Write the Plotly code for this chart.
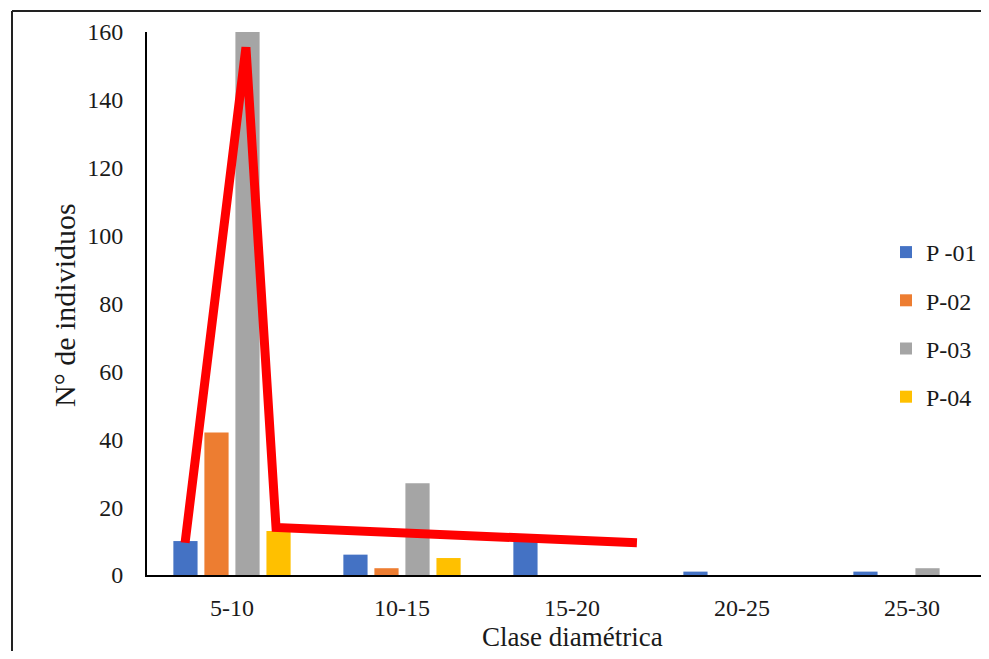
import plotly.graph_objects as go

categories = ["5-10", "10-15", "15-20", "20-25", "25-30"]
series_names = ["P -01", "P-02", "P-03", "P-04"]
p01 = [10, 6, 10, 1, 1]
p02 = [42, 2, 0, 0, 0]
p03 = [160, 27, 0, 0, 2]
p04 = [13, 5, 0, 0, 0]
series_values = [p01, p02, p03, p04]
colors = ["#4472C4", "#ED7D31", "#A5A5A5", "#FFC000"]

# hand-drawn red trend line (category-index x, value y)
trend_x = [-0.276, 0.082, 0.259, 2.382]
trend_y = [9.5, 155.5, 14, 9.5]

y_ticks = [0, 20, 40, 60, 80, 100, 120, 140, 160]

OFF = 8  # browser body margin
PAGE_W, PAGE_H = 989, 659
W, H = PAGE_W - 2 * OFF, PAGE_H - 2 * OFF
# plot area in page pixels
PL, PT, PB = 147, 32, 575
L = PL - OFF
T = PT - OFF
B = H - (PB - OFF)
R = 0
plot_w = W - L - R
plot_h = H - T - B
x_range = [-0.5, -0.5 + plot_w / 170.0]

font_family = "Liberation Serif, Times New Roman, serif"
txt = "#1a1a1a"

fig = go.Figure()
for i, (name, vals) in enumerate(zip(series_names, series_values)):
    fig.add_trace(go.Bar(
        x=categories, y=vals, name=name,
        marker=dict(color=colors[i], line=dict(width=0)),
        legendgroup=name,
    ))

fig.add_trace(go.Scatter(
    x=trend_x, y=trend_y, mode="lines", xaxis="x2",
    line=dict(color="#FF0000", width=9), showlegend=False,
    hoverinfo="skip",
))

def px_x(p):
    return (p - PL) / plot_w

def px_y(p):
    return (PB - p) / plot_h

frame_line = dict(color="#222222", width=2)

fig.update_layout(
    width=W, height=H,
    margin=dict(l=L, r=R, t=T, b=B, autoexpand=False),
    paper_bgcolor="white", plot_bgcolor="white",
    font=dict(family=font_family, size=24, color=txt),
    barmode="group", bargap=0.27, bargroupgap=0.22,
    xaxis=dict(
        type="category", range=x_range,
        showline=True, linecolor="black", linewidth=2,
        showgrid=False, zeroline=False,
        ticks="outside", ticklen=10, tickcolor="rgba(0,0,0,0)",
        tickfont=dict(size=24, color=txt, family=font_family),
    ),
    xaxis2=dict(
        overlaying="x", range=x_range, visible=False,
    ),
    yaxis=dict(
        range=[0, 160], tickvals=y_ticks,
        showline=True, linecolor="black", linewidth=2,
        showgrid=False, zeroline=False,
        ticks="outside", ticklen=17, tickcolor="rgba(0,0,0,0)",
        tickfont=dict(size=24, color=txt, family=font_family),
    ),
    legend=dict(
        x=px_x(886), y=px_y(230), xanchor="left", yanchor="top",
        font=dict(size=24, color=txt, family=font_family),
        tracegroupgap=14, bgcolor="rgba(0,0,0,0)",
    ),
    annotations=[
        dict(text="Clase diamétrica", xref="paper", yref="paper",
             x=px_x(572), y=px_y(637), showarrow=False,
             font=dict(size=27, color=txt, family=font_family),
             xanchor="center", yanchor="middle"),
        dict(text="N° de individuos", xref="paper", yref="paper",
             x=px_x(65), y=px_y(305), showarrow=False, textangle=-90,
             font=dict(size=30, color=txt, family=font_family),
             xanchor="center", yanchor="middle"),
    ],
    shapes=[
        dict(type="line", xref="paper", yref="paper",
             x0=px_x(12), x1=px_x(12), y0=px_y(700), y1=px_y(11),
             line=frame_line, layer="below"),
        dict(type="line", xref="paper", yref="paper",
             x0=px_x(12), x1=px_x(1010), y0=px_y(11), y1=px_y(11),
             line=frame_line, layer="below"),
    ],
    showlegend=True,
)

fig.write_html("out.html")
